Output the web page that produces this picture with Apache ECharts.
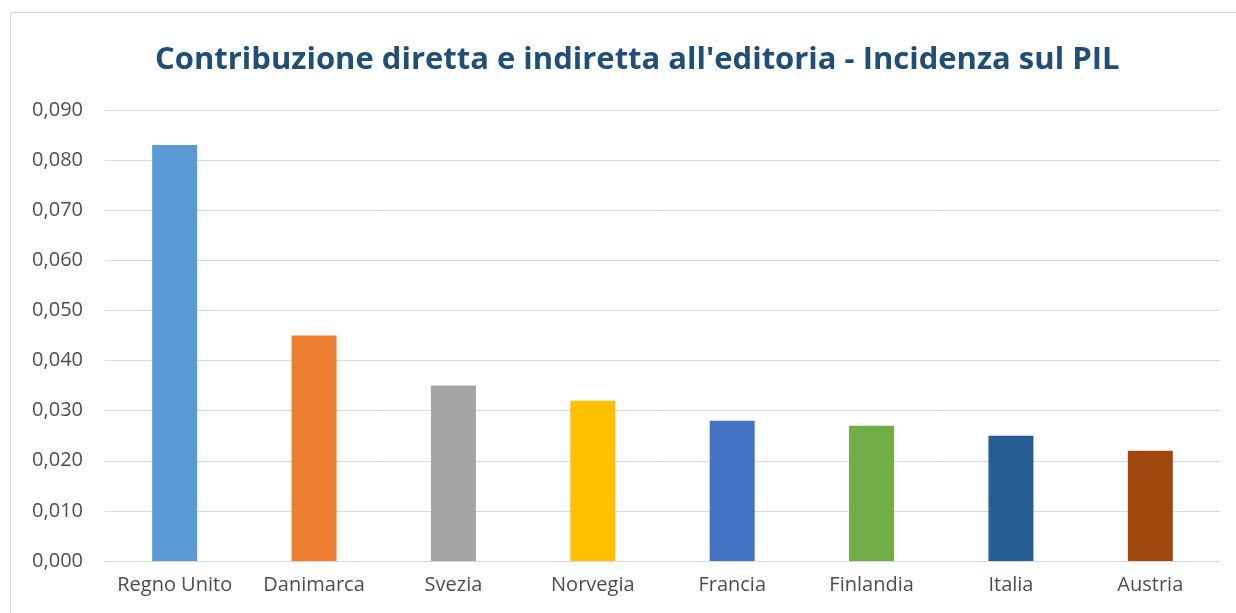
<!DOCTYPE html>
<html lang="it">
<head>
  <meta charset="UTF-8">
  <title>Contribuzione editoria</title>
  <script src="https://cdn.jsdelivr.net/npm/echarts@6/dist/echarts.min.js"></script>
  <style>
    html, body { margin: 0; padding: 0; background: #fff; }
  </style>
</head>
<body>
  <div id="main" style="width: 1236px;height:613px;"></div>

  <script type="text/javascript">
    // Paesi e incidenza sul PIL
    const categories = ['Regno Unito', 'Danimarca', 'Svezia', 'Norvegia', 'Francia', 'Finlandia', 'Italia', 'Austria'];
    const values = [0.083, 0.045, 0.035, 0.032, 0.028, 0.027, 0.025, 0.022];
    const barColors = ['#5B9BD5', '#ED7D31', '#A5A5A5', '#FFC000', '#4472C4', '#70AD47', '#255E91', '#9E480E'];

    let myChart = echarts.init(document.getElementById('main'));

    let options = {
      animation: false,
      title: {
        text: "Contribuzione diretta e indiretta all'editoria - Incidenza sul PIL",
        left: 150,
        top: 40,
        textStyle: { fontFamily: 'Open Sans', fontWeight: 'bold', fontSize: 31, color: '#1F4E79' }
      },
      graphic: [{
        type: 'rect',
        shape: { x: 10.5, y: 12.5, width: 1300, height: 700 },
        style: { fill: 'none', stroke: '#D9D9D9', lineWidth: 1 },
        silent: true
      }],
      grid: { left: 105, right: 16, top: 110, bottom: 52 },
      xAxis: {
        type: 'category',
        data: categories,
        axisLine: { lineStyle: { color: '#D9D9D9' } },
        axisTick: { show: false },
        axisLabel: { interval: 0, color: '#4D4D4D', fontSize: 20, fontFamily: 'Open Sans', margin: 14 }
      },
      yAxis: {
        type: 'value',
        min: 0,
        max: 0.09,
        interval: 0.01,
        axisLine: { show: false },
        axisTick: { show: false },
        splitLine: { lineStyle: { color: '#D9D9D9' } },
        axisLabel: {
          color: '#4D4D4D', fontSize: 20, fontFamily: 'Open Sans', margin: 22,
          formatter: (v) => v.toFixed(3).replace('.', ',')
        }
      },
      series: [{
        type: 'bar',
        barWidth: 45,
        data: values.map((v, i) => ({ value: v, itemStyle: { color: barColors[i] } }))
      }]
    };

    myChart.setOption(options);
  </script>
</body>
</html>
